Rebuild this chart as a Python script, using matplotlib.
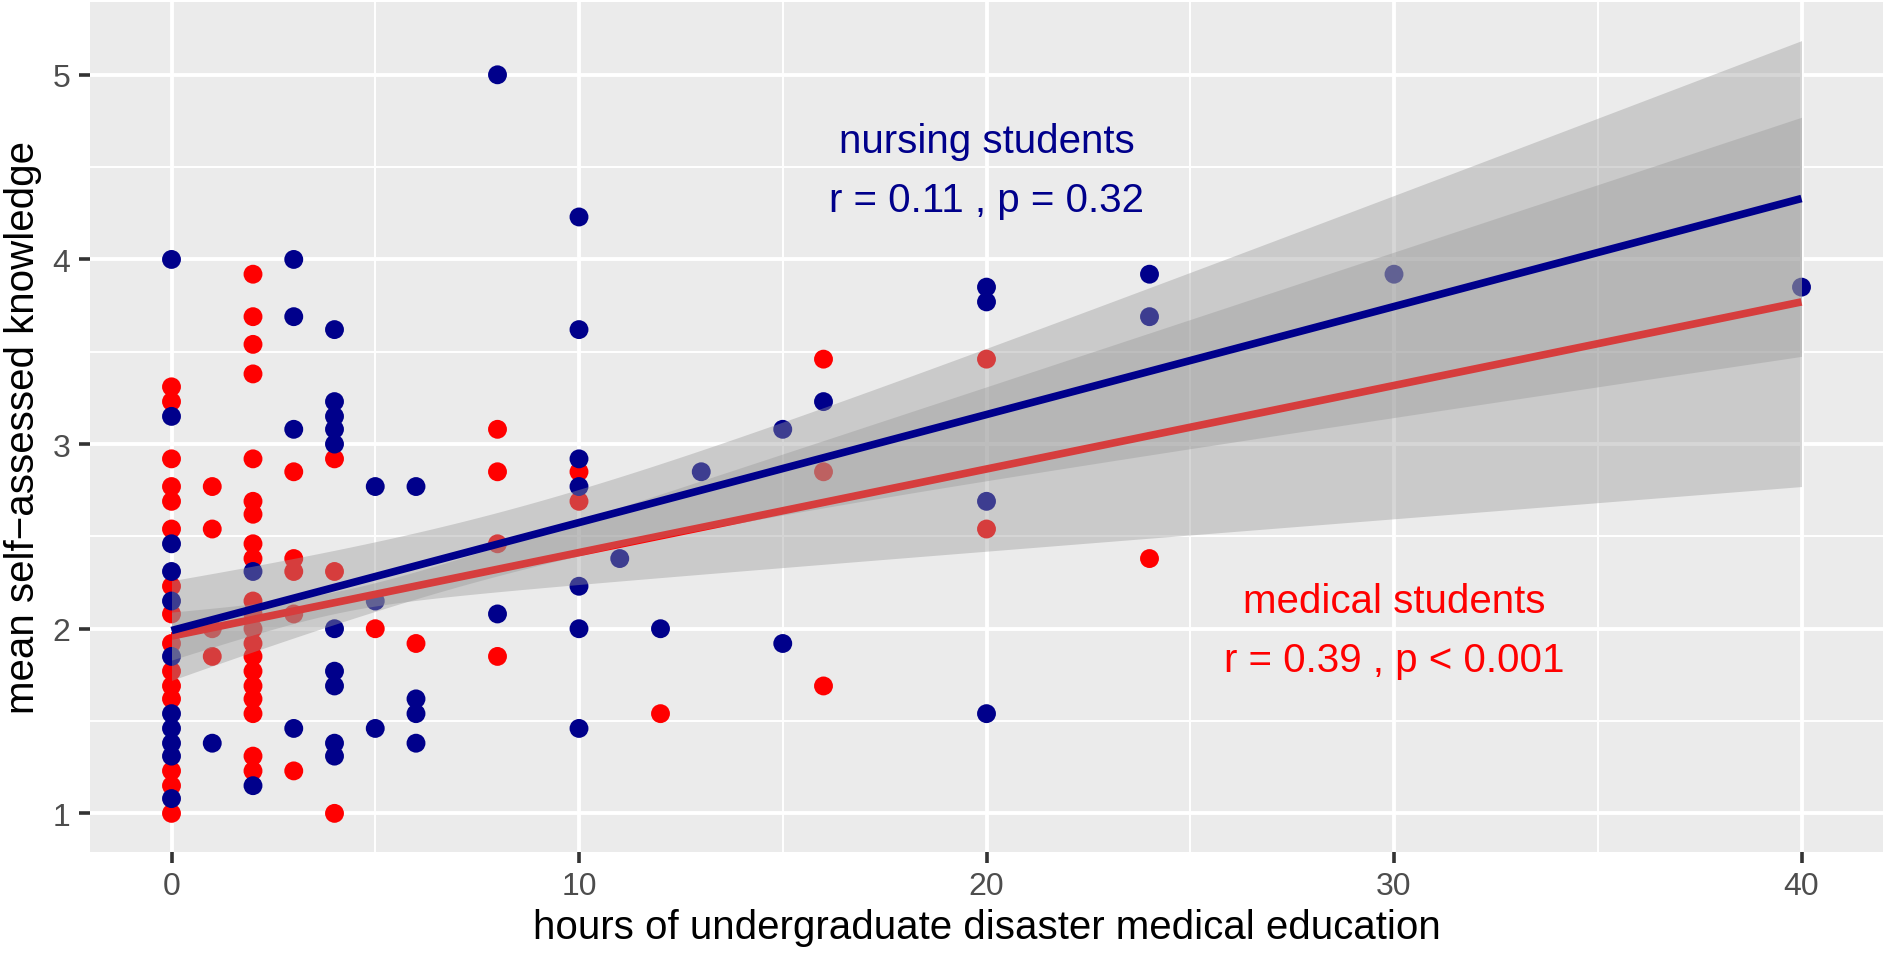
import numpy as np
import matplotlib
matplotlib.use('Agg')
import matplotlib.pyplot as plt
from matplotlib.ticker import MultipleLocator

plt.rcParams['font.family'] = ['Liberation Sans', 'DejaVu Sans']

# medical students (red)
med_hours = [0]*15 + [1]*4 + [2]*20 + [3]*5 + [4]*3 + [5] + [6] + [8]*4 + [10]*2 + [12] + [16]*3 + [20]*2 + [24]
med_score = [3.31, 3.23, 2.92, 2.77, 2.69, 2.54, 2.23, 2.08, 1.92, 1.77, 1.69, 1.62, 1.23, 1.15, 1.00,
             2.77, 2.54, 2.00, 1.85,
             3.92, 3.69, 3.54, 3.38, 2.92, 2.69, 2.62, 2.46, 2.38, 2.15, 2.08, 2.00, 1.92, 1.85, 1.77, 1.69,
             1.62, 1.54, 1.31, 1.23,
             2.85, 2.38, 2.31, 2.08, 1.23,
             2.92, 2.31, 1.00,
             2.00,
             1.92,
             3.08, 2.85, 2.46, 1.85,
             2.85, 2.69,
             1.54,
             3.46, 2.85, 1.69,
             3.46, 2.54,
             2.38]

# nursing students (blue)
nur_hours = [0]*11 + [1] + [2]*2 + [3]*4 + [4]*10 + [5]*3 + [6]*4 + [8]*2 + [10]*7 + [11] + [12] + [13] + [15]*2 + [16] + [20]*4 + [24]*2 + [30] + [40]
nur_score = [4.00, 3.15, 2.46, 2.31, 2.15, 1.85, 1.54, 1.46, 1.38, 1.31, 1.08,
             1.38,
             2.31, 1.15,
             4.00, 3.69, 3.08, 1.46,
             3.62, 3.23, 3.15, 3.08, 3.00, 2.00, 1.77, 1.69, 1.38, 1.31,
             2.77, 2.15, 1.46,
             2.77, 1.62, 1.54, 1.38,
             5.00, 2.08,
             4.23, 3.62, 2.92, 2.77, 2.23, 2.00, 1.46,
             2.38,
             2.00,
             2.85,
             3.08, 1.92,
             3.23,
             3.85, 3.77, 2.69, 1.54,
             3.92, 3.69,
             3.92,
             3.85]

# linear fits: value at 0 h / 40 h, and 95% CI half-width at 0 h / 40 h
med_fit_ends = [1.96, 3.77]
med_ci_half = [0.13, 1.00]
nur_fit_ends = [1.99, 4.33]
nur_ci_half = [0.27, 0.855]

med_col = '#FF0000'
nur_col = '#00008B'


def band(hours, ends, half, xs):
    # straight fit line with the usual hyperbolic lm confidence band
    xm = np.mean(hours)
    d0, d1 = (0 - xm)**2, (40 - xm)**2
    B = (half[1]**2 - half[0]**2)/(d1 - d0)
    A = max(half[0]**2 - B*d0, 1e-4)
    fit = ends[0] + (ends[1] - ends[0])*xs/40.0
    hw = np.sqrt(A + B*(xs - xm)**2)
    return fit, fit - hw, fit + hw


xs = np.linspace(0, 40, 300)
med_fit, med_lo, med_hi = band(med_hours, med_fit_ends, med_ci_half, xs)
nur_fit, nur_lo, nur_hi = band(nur_hours, nur_fit_ends, nur_ci_half, xs)

fig = plt.figure(figsize=(18.87, 9.54), dpi=100)
ax = fig.add_axes([90/1887, 1-853/954, (1883-90)/1887, (853-3)/954])
ax.set_facecolor('#EBEBEB')
for sp in ax.spines.values():
    sp.set_visible(False)

ax.scatter(med_hours, med_score, s=185, color=med_col, edgecolors='none', zorder=2)
ax.scatter(nur_hours, nur_score, s=185, color=nur_col, edgecolors='none', zorder=2)

ax.fill_between(xs, med_lo, med_hi, color='#999999', alpha=0.4, linewidth=0, zorder=3)
ax.plot(xs, med_fit, color=med_col, linewidth=5.5, zorder=4, solid_capstyle='butt')
ax.fill_between(xs, nur_lo, nur_hi, color='#999999', alpha=0.4, linewidth=0, zorder=5)
ax.plot(xs, nur_fit, color=nur_col, linewidth=5.5, zorder=6, solid_capstyle='butt')

ax.set_xlim(-2, 42)
ylo = min(min(med_score), min(nur_score), med_lo.min(), nur_lo.min())
yhi = max(max(med_score), max(nur_score), med_hi.max(), nur_hi.max())
pad = (yhi - ylo)*0.05
ax.set_ylim(ylo - pad, yhi + pad)

ax.xaxis.set_major_locator(MultipleLocator(10))
ax.xaxis.set_minor_locator(MultipleLocator(5))
ax.yaxis.set_major_locator(MultipleLocator(1))
ax.yaxis.set_minor_locator(MultipleLocator(0.5))
ax.grid(which='major', color='white', linewidth=2.8, zorder=0)
ax.grid(which='minor', color='white', linewidth=1.4, zorder=0)
ax.set_axisbelow(True)
ax.tick_params(which='major', length=8, width=2.6, color='#333333', labelcolor='#4D4D4D',
               labelsize=23, pad=6)
ax.tick_params(which='minor', length=0)

ax.set_xlabel('hours of undergraduate disaster medical education', fontsize=29, labelpad=5)
ax.set_ylabel('mean self\u2212assessed knowledge', fontsize=29, labelpad=8)

ax.text(20, 4.64, 'nursing students', color=nur_col, fontsize=29, ha='center', va='center', zorder=7)
ax.text(20, 4.32, 'r = 0.11 , p = 0.32', color=nur_col, fontsize=29, ha='center', va='center', zorder=7)
ax.text(30, 2.15, 'medical students', color=med_col, fontsize=29, ha='center', va='center', zorder=7)
ax.text(30, 1.83, 'r = 0.39 , p < 0.001', color=med_col, fontsize=29, ha='center', va='center', zorder=7)

fig.savefig('out.png', dpi=100)
